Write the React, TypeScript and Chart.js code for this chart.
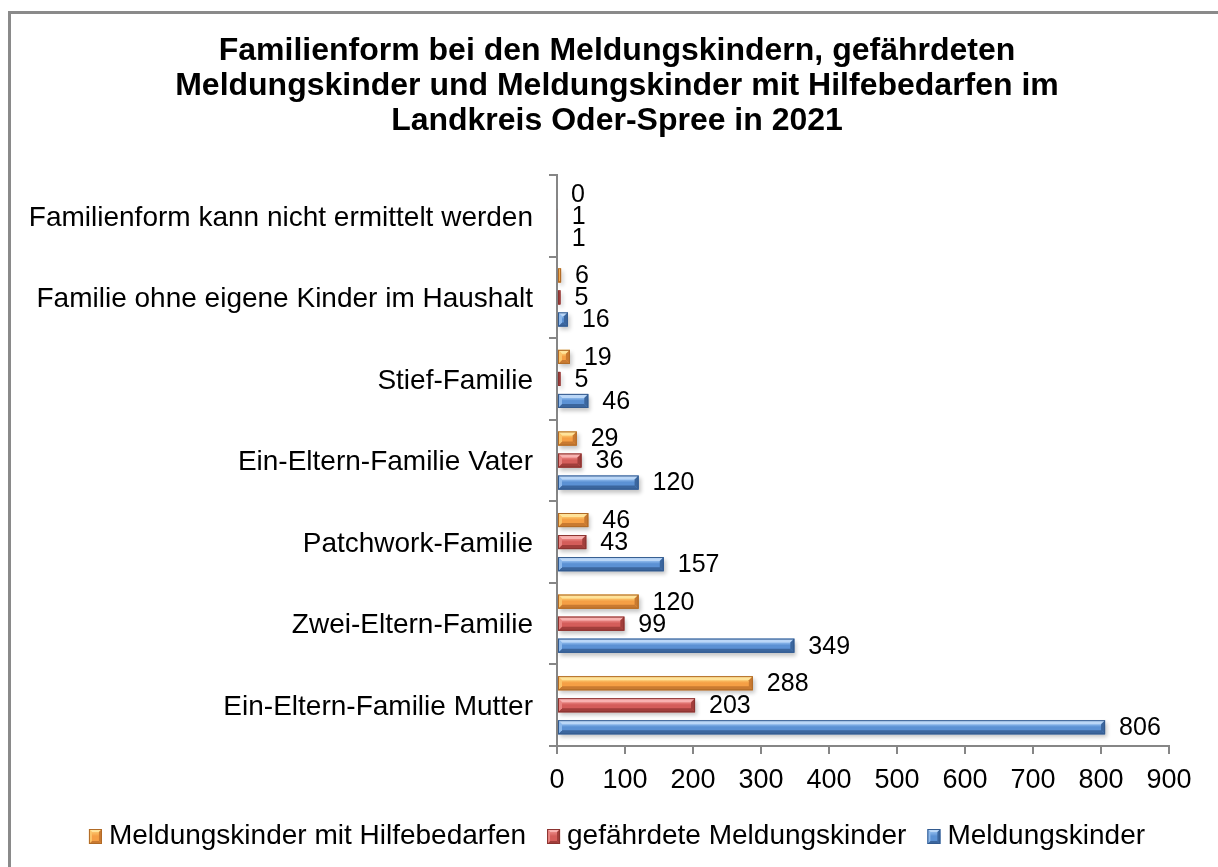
import React, { useEffect, useRef } from "react";
import { Chart, registerables } from "chart.js";

Chart.register(...registerables);

const FONT = "'Liberation Sans', Arial, sans-serif";

const titleLines = [
  "Familienform bei den Meldungskindern, gefährdeten",
  "Meldungskinder und Meldungskinder mit Hilfebedarfen im",
  "Landkreis Oder-Spree in 2021",
];

const categories = [
  "Familienform kann nicht ermittelt werden",
  "Familie ohne eigene Kinder im Haushalt",
  "Stief-Familie",
  "Ein-Eltern-Familie Vater",
  "Patchwork-Familie",
  "Zwei-Eltern-Familie",
  "Ein-Eltern-Familie Mutter",
];

const seriesNames = [
  "Meldungskinder mit Hilfebedarfen",
  "gefährdete Meldungskinder",
  "Meldungskinder",
];

const hilfebedarfen = [0, 6, 19, 29, 46, 120, 288];
const gefaehrdete = [1, 5, 5, 36, 43, 99, 203];
const meldungskinder = [1, 16, 46, 120, 157, 349, 806];

const xMin = 0;
const xMax = 900;
const xStep = 100;

const palettes = [
  { light: "#FFE39A", top: "#FBC46A", mid: "#F59F45", dark: "#C97A31", edge: "#B06A26" },
  { light: "#F8B2B0", top: "#E98582", mid: "#D45D5A", dark: "#A13E3B", edge: "#8A3330" },
  { light: "#BBD7F7", top: "#8DB9EC", mid: "#5B91D4", dark: "#3B669E", edge: "#335A8E" },
];

function poly(ctx: CanvasRenderingContext2D, pts: number[][], fill: string | CanvasGradient) {
  ctx.beginPath();
  ctx.moveTo(pts[0][0], pts[0][1]);
  for (let i = 1; i < pts.length; i++) ctx.lineTo(pts[i][0], pts[i][1]);
  ctx.closePath();
  ctx.fillStyle = fill;
  ctx.fill();
}

function bevelRect(ctx: CanvasRenderingContext2D, l: number, t: number, w: number, h: number, p: any, maxBevel: number) {
  const r = l + w, b = t + h;
  const bv = Math.max(0.5, Math.min(maxBevel, w / 2, h / 3));
  const g = ctx.createLinearGradient(0, t + bv, 0, b - bv);
  g.addColorStop(0, p.top);
  g.addColorStop(0.45, p.mid);
  g.addColorStop(1, p.mid);
  ctx.fillStyle = g;
  ctx.fillRect(l, t, w, h);
  poly(ctx, [[l, t], [r, t], [r - bv, t + bv], [l + bv, t + bv]], p.light);
  poly(ctx, [[l, b], [r, b], [r - bv, b - bv], [l + bv, b - bv]], p.dark);
  poly(ctx, [[r, t], [r, b], [r - bv, b - bv], [r - bv, t + bv]], p.dark);
  poly(ctx, [[l, t], [l, b], [l + bv, b - bv], [l + bv, t + bv]], p.top);
  ctx.strokeStyle = p.edge;
  ctx.lineWidth = 1;
  ctx.strokeRect(l + 0.5, t + 0.5, Math.max(0, w - 1), h - 1);
}

const bevelPlugin = {
  id: "bevelBars",
  beforeDatasetsDraw(chart: any) {
    const ctx: CanvasRenderingContext2D = chart.ctx;
    ctx.save();
    chart.data.datasets.forEach((_: any, i: number) => {
      const meta = chart.getDatasetMeta(i);
      meta.data.forEach((el: any) => {
        const { x, y, base, height } = el.getProps(["x", "y", "base", "height"], true);
        const w = x - base;
        if (w < 0.5) return;
        ctx.shadowColor = "rgba(0,0,0,0.45)";
        ctx.shadowBlur = 4;
        ctx.shadowOffsetX = 2;
        ctx.shadowOffsetY = 3;
        ctx.fillStyle = "rgba(120,120,120,0.5)";
        ctx.fillRect(base, y - height / 2, w, height);
      });
    });
    ctx.restore();
  },
  afterDatasetsDraw(chart: any) {
    const ctx: CanvasRenderingContext2D = chart.ctx;
    ctx.save();
    chart.data.datasets.forEach((_: any, i: number) => {
      const meta = chart.getDatasetMeta(i);
      meta.data.forEach((el: any) => {
        const { x, y, base, height } = el.getProps(["x", "y", "base", "height"], true);
        const w = x - base;
        if (w < 0.5) return;
        bevelRect(ctx, base, y - height / 2, w, height, palettes[i], 4);
      });
    });
    ctx.restore();
  },
  afterDraw(chart: any) {
    const legend = chart.legend;
    if (!legend || !legend.legendHitBoxes) return;
    const ctx: CanvasRenderingContext2D = chart.ctx;
    ctx.save();
    legend.legendHitBoxes.forEach((hb: any, i: number) => {
      const item = legend.legendItems[i];
      const p = palettes[item.datasetIndex];
      const cy = hb.top + hb.height / 2;
      bevelRect(ctx, hb.left, cy - 7.5, 13, 15, p, 3);
    });
    ctx.restore();
  },
};

const valueLabelPlugin = {
  id: "valueLabels",
  afterDatasetsDraw(chart: any) {
    const ctx: CanvasRenderingContext2D = chart.ctx;
    ctx.save();
    ctx.font = `25px ${FONT}`;
    ctx.fillStyle = "#000";
    ctx.textAlign = "left";
    ctx.textBaseline = "middle";
    chart.data.datasets.forEach((ds: any, i: number) => {
      const meta = chart.getDatasetMeta(i);
      meta.data.forEach((el: any, j: number) => {
        const { x, y } = el.getProps(["x", "y"], true);
        ctx.fillText(String(ds.data[j]), x + 14, y + 1);
      });
    });
    ctx.restore();
  },
};

export default function App() {
  const canvasRef = useRef<HTMLCanvasElement | null>(null);

  useEffect(() => {
    if (!canvasRef.current) return;
    const values = [hilfebedarfen, gefaehrdete, meldungskinder];
    const chart = new Chart(canvasRef.current, {
      type: "bar",
      data: {
        labels: categories,
        datasets: values.map((v, i) => ({
          label: seriesNames[i],
          data: v,
          backgroundColor: palettes[i].mid,
          borderColor: palettes[i].edge,
          borderWidth: 1,
          categoryPercentage: 0.81,
          barPercentage: 0.64,
        })),
      },
      options: {
        indexAxis: "y",
        responsive: false,
        animation: false,
        devicePixelRatio: 1,
        layout: { padding: { left: 16, right: 0, top: 0, bottom: 6.5 } },
        plugins: {
          title: {
            display: true,
            text: titleLines,
            color: "#000",
            font: { family: FONT, size: 32, weight: "bold", lineHeight: 1.1 },
            padding: { top: 33.6, bottom: 35.8 },
          },
          legend: {
            position: "bottom",
            labels: {
              color: "#000",
              font: { family: FONT, size: 28 },
              boxWidth: 6,
              boxHeight: 14,
              padding: 21,
              generateLabels(chart: any) {
                const items = Chart.defaults.plugins.legend.labels.generateLabels(chart);
                return items.map((it: any) => ({
                  ...it,
                  fillStyle: "rgba(0,0,0,0)",
                  strokeStyle: "rgba(0,0,0,0)",
                  lineWidth: 0,
                }));
              },
            },
          },
          tooltip: { enabled: false },
        },
        scales: {
          x: {
            min: xMin,
            max: xMax,
            ticks: { stepSize: xStep, color: "#000", font: { family: FONT, size: 27 }, padding: 10 },
            grid: { drawOnChartArea: false, drawTicks: true, tickLength: 8, color: "#868686", lineWidth: 2 },
            border: { color: "#868686", width: 2 },
            afterFit(scale: any) {
              scale.height = 55.5;
              scale.paddingLeft = 0;
              scale.paddingRight = 49;
            },
          },
          y: {
            ticks: { color: "#000", font: { family: FONT, size: 28 }, padding: 16, labelOffset: 2 },
            grid: { offset: true, drawOnChartArea: false, tickLength: 8, color: "#868686", lineWidth: 2 },
            border: { color: "#868686", width: 2 },
            afterFit(scale: any) {
              scale.width = 557 - 16;
              scale.paddingTop = 0;
              scale.paddingBottom = 0;
            },
          },
        },
      } as any,
      plugins: [bevelPlugin, valueLabelPlugin],
    });
    return () => chart.destroy();
  }, []);

  return (
    <div style={{ position: "fixed", left: 0, top: 0, width: 1218, height: 867, background: "#fff", overflow: "hidden" }}>
      <div
        style={{
          position: "absolute",
          left: 8,
          top: 11,
          width: 1240,
          height: 880,
          border: "3px solid #8a8a8a",
          boxSizing: "border-box",
        }}
      />
      <canvas ref={canvasRef} width={1218} height={867} style={{ position: "absolute", left: 0, top: 0 }} />
    </div>
  );
}
